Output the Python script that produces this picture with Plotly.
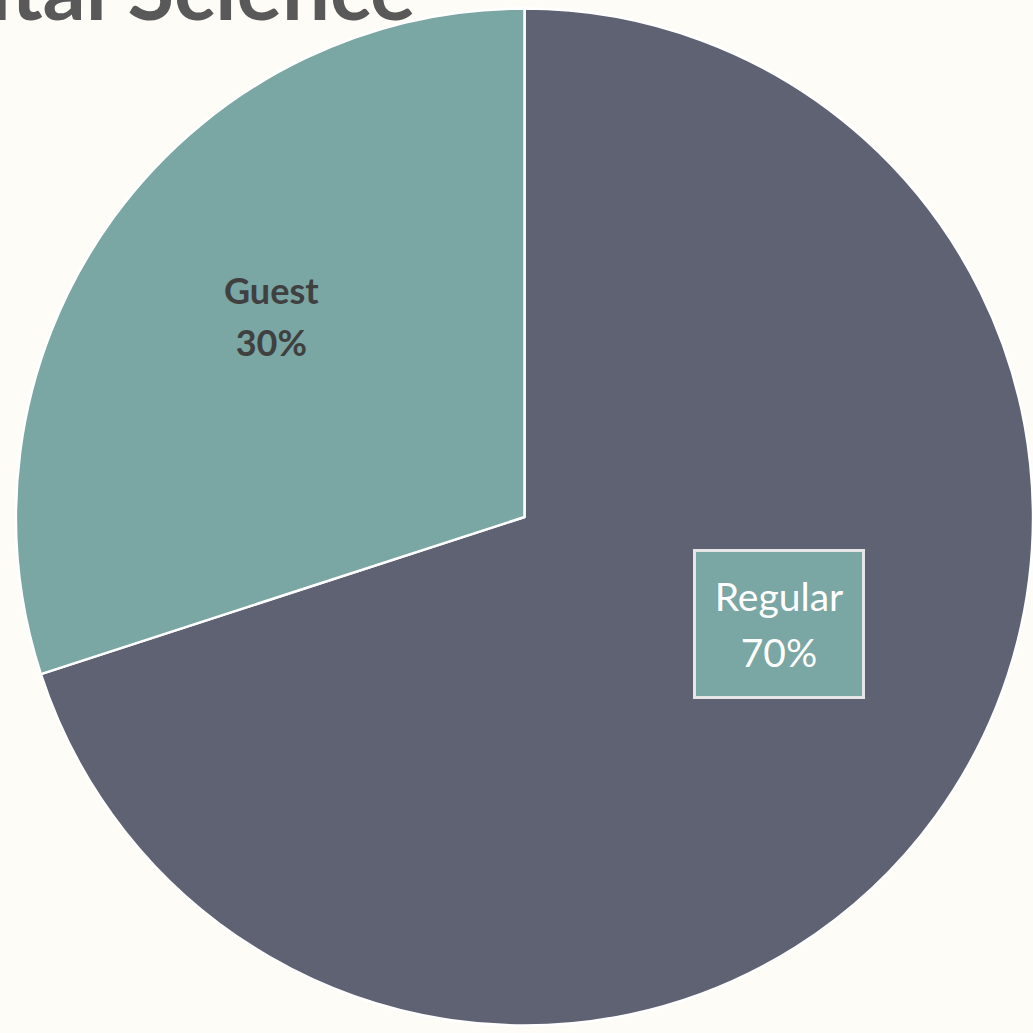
"""pie chart of guest vs regular share"""

import plotly.graph_objects as go

labels = ['Regular', 'Guest']
values = [70, 30]
colors = ['#5f6272', '#7aa6a3']
title_text = 'Digital Science'

fig = go.Figure()

fig.add_trace(go.Pie(
    labels=labels,
    values=values,
    sort=False,
    direction='clockwise',
    rotation=0,
    textinfo='none',
    hoverinfo='label+percent',
    marker=dict(colors=colors, line=dict(color='white', width=2.5)),
    showlegend=False,
))

total = sum(values)
pct = [round(100 * v / total) for v in values]

# Regular label sits in a teal box, Guest label is plain bold text
fig.add_annotation(
    x=0.7507, y=0.3955, xref='paper', yref='paper',
    xanchor='center', yanchor='middle',
    text=f"<span style='font-size:39px'>{labels[0]}</span><br>"
         f"<span style='font-size:39px'>{pct[0]}%</span>",
    showarrow=False,
    font=dict(family='Lato', size=43, color='white'),
    bgcolor=colors[1],
    bordercolor='#e6e6e6',
    borderwidth=3,
    width=164, height=142,
    align='center', valign='middle',
)
fig.add_annotation(
    x=0.2512, y=0.6963, xref='paper', yref='paper',
    xanchor='center', yanchor='middle',
    text=f"<b><span style='font-size:36px'>{labels[1]}</span><br>"
         f"<span style='font-size:36px'>{pct[1]}%</span></b>",
    showarrow=False,
    font=dict(family='Lato', size=40, color='#404040'),
    align='center',
)

# title mostly cut off at the top of the picture
fig.add_annotation(
    x=0.3945, y=1.0176, xref='paper', yref='paper',
    xanchor='right', yanchor='middle',
    text=f"<b>{title_text}</b>",
    showarrow=False,
    font=dict(family='Lato', size=85, color='#595959'),
    borderpad=0,
)

fig.update_layout(
    width=1033, height=1033,
    margin=dict(l=16, r=0, t=5, b=4),
    paper_bgcolor='#fdfcf7',
    plot_bgcolor='#fdfcf7',
)

fig.write_html(
    "out.html",
    config={'displayModeBar': False},
    post_script="document.body.style.margin='0';document.body.style.overflow='hidden';",
)
